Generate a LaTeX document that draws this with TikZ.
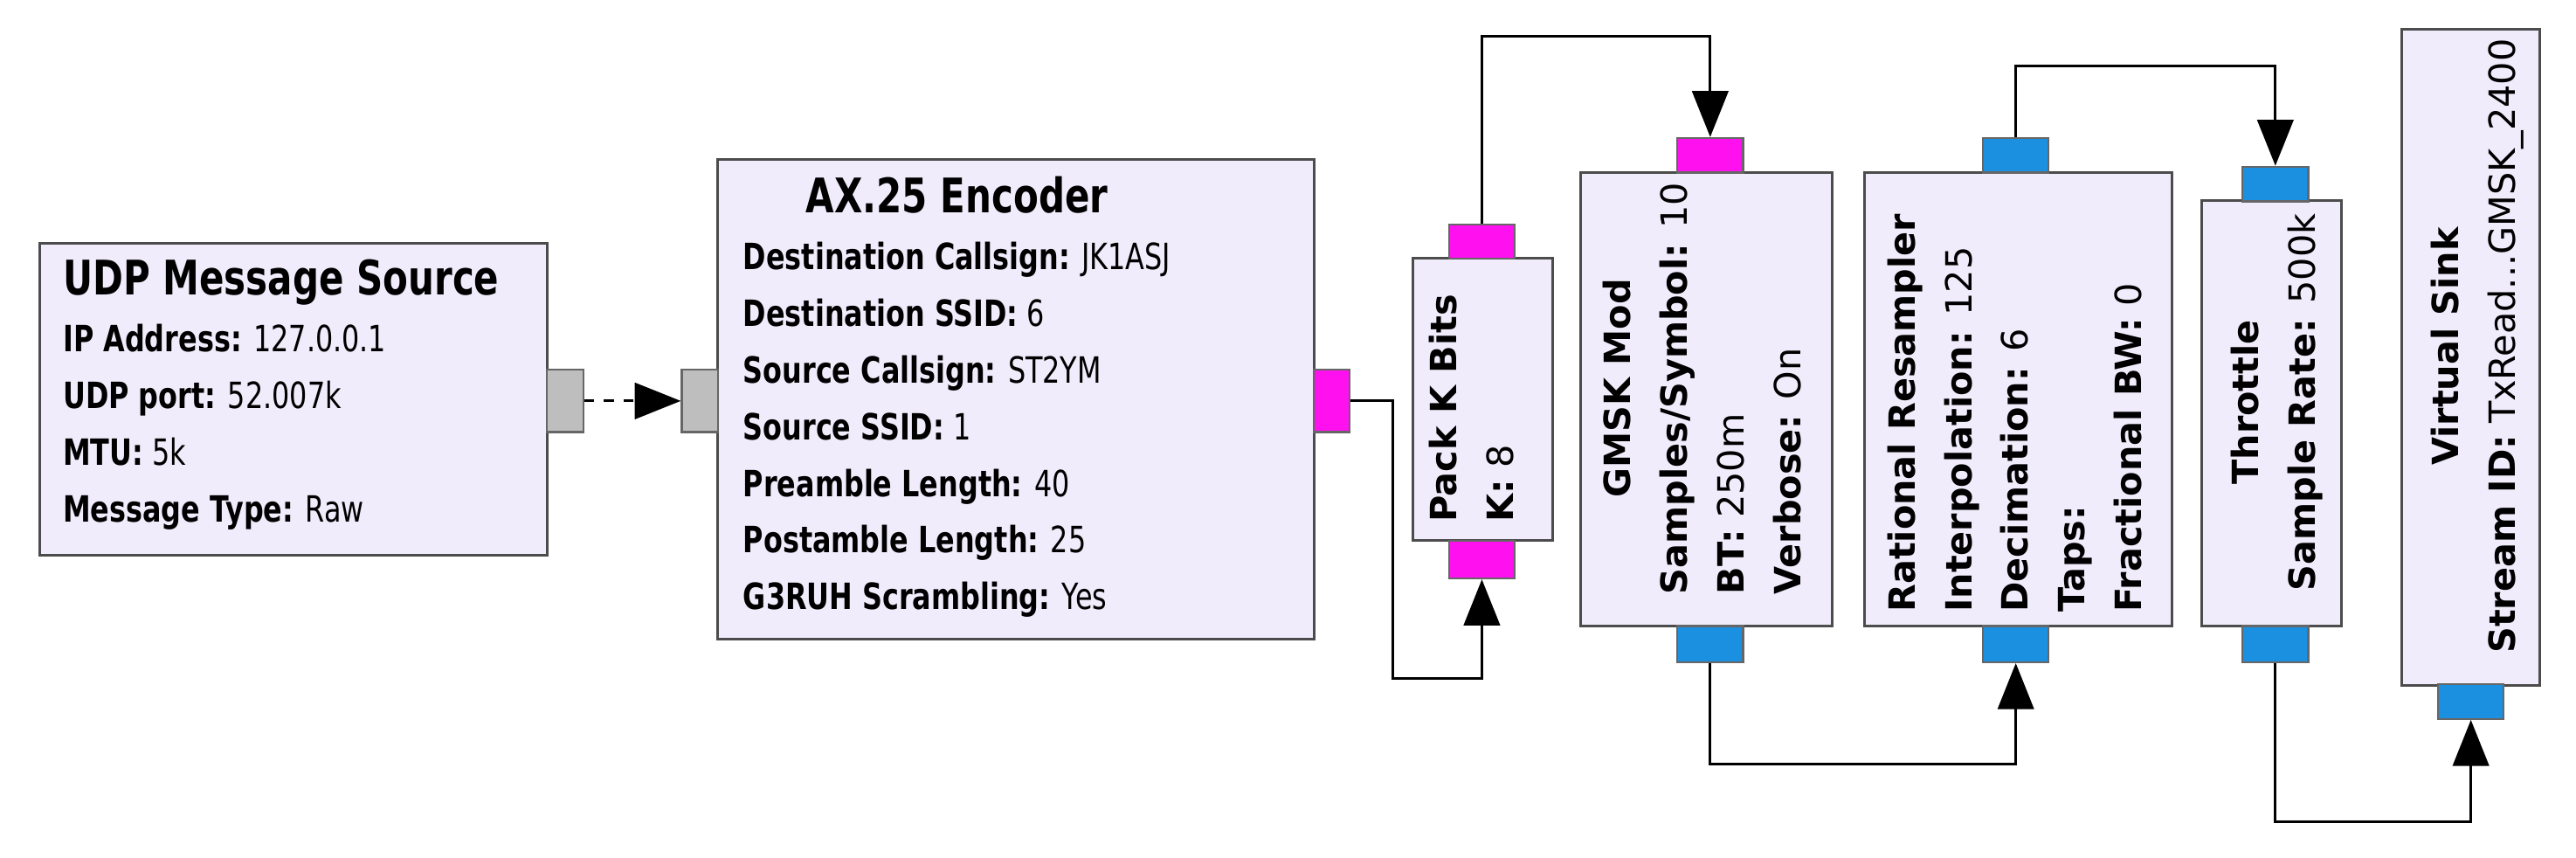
\documentclass[tikz,border=0pt]{standalone}
\usepackage{fontspec}
\setmainfont{DejaVu Sans}
\newfontfamily\condfont{DejaVu Sans}[FakeStretch=0.77]
\usetikzlibrary{arrows.meta, positioning}
\definecolor{blockfill}{HTML}{F1ECFB}
\definecolor{msgport}{HTML}{BEBEBE}
\definecolor{byteport}{HTML}{FF10EE}
\definecolor{cplxport}{HTML}{1C90E0}
\newcommand{\htitle}[1]{\multicolumn{1}{@{}c@{}}{\fontsize{14.5}{17.25}\selectfont\textbf{#1}}}

\begin{document}
\begin{tikzpicture}[x=0.5pt, y=-0.5pt,
    block/.style={rectangle, draw=black!70, line width=0.8pt, fill=blockfill, inner sep=0pt},
    port/.style={rectangle, draw=black!60, line width=0.6pt, inner sep=0pt},
    hport/.style={port, minimum width=11pt, minimum height=19pt},
    vport/.style={port, minimum width=20pt, minimum height=10.5pt},
    hlabel/.style={anchor=north west, inner sep=0pt, font=\condfont\fontsize{11}{17.25}\selectfont},
    vlabel/.style={anchor=north west, inner sep=0pt, rotate=90, font=\fontsize{11}{17.25}\selectfont},
    wire/.style={line width=0.8pt, -{Triangle[length=14pt, width=11pt]}}]
    \useasboundingbox (0,0) rectangle (1568,522);

    % Blocks
    \node (udp) [block, minimum width=154.5pt, minimum height=95pt] at (178.5,243) {};
    \node (ax) [block, minimum width=181.5pt, minimum height=146pt] at (618.5,243) {};
    \node (pack) [block, minimum width=42.5pt, minimum height=86pt] at (902.5,243) {};
    \node (gmsk) [block, minimum width=76.5pt, minimum height=138pt] at (1038.5,243) {};
    \node (rrs) [block, minimum width=93.5pt, minimum height=138pt] at (1228.5,243) {};
    \node (thr) [block, minimum width=42.5pt, minimum height=129.5pt] at (1382.5,251.5) {};
    \node (vsink) [block, minimum width=42pt, minimum height=199.5pt] at (1504,217.5) {};

    % Ports
    \node (udpo) [hport, fill=msgport] at (344,244) {};
    \node (axi) [hport, fill=msgport] at (426,244) {};
    \node (axo) [hport, fill=byteport] at (810.5,244) {};
    \node (pki) [vport, fill=byteport, minimum height=11.5pt] at (902,340.5) {};
    \node (pko) [vport, fill=byteport] at (902,147) {};
    \node (gmi) [vport, fill=byteport] at (1041,94.5) {};
    \node (gmo) [vport, fill=cplxport, minimum height=11pt] at (1041,392) {};
    \node (rro) [vport, fill=cplxport] at (1227,94.5) {};
    \node (rri) [vport, fill=cplxport, minimum height=11pt] at (1227,392) {};
    \node (thi) [vport, fill=cplxport] at (1385,112) {};
    \node (tho) [vport, fill=cplxport, minimum height=11pt] at (1385,392) {};
    \node (vsi) [vport, fill=cplxport] at (1504,427) {};

    % Labels
    \node (udptxt) [hlabel] at (38,155) {\begin{tabular}{@{}l@{}}
        \htitle{UDP Message Source}\\
        \textbf{IP Address:} 127.0.0.1\\
        \textbf{UDP port:} 52.007k\\
        \textbf{MTU:} 5k\\
        \textbf{Message Type:} Raw
    \end{tabular}};
    \node (axtxt) [hlabel] at (452,105) {\begin{tabular}{@{}l@{}}
        \htitle{AX.25 Encoder}\\
        \textbf{Destination Callsign:} JK1ASJ\\
        \textbf{Destination SSID:} 6\\
        \textbf{Source Callsign:} ST2YM\\
        \textbf{Source SSID:} 1\\
        \textbf{Preamble Length:} 40\\
        \textbf{Postamble Length:} 25\\
        \textbf{G3RUH Scrambling:} Yes
    \end{tabular}};
    \node (packtxt) [vlabel] at (862,318) {\begin{tabular}{@{}l@{}}
        \textbf{Pack K Bits}\\
        \textbf{K:} 8
    \end{tabular}};
    \node (gmsktxt) [vlabel] at (968,362) {\begin{tabular}{@{}l@{}}
        \multicolumn{1}{@{}c@{}}{\textbf{GMSK Mod}}\\
        \textbf{Samples/Symbol:} 10\\
        \textbf{BT:} 250m\\
        \textbf{Verbose:} On
    \end{tabular}};
    \node (rrstxt) [vlabel] at (1141,373) {\begin{tabular}{@{}l@{}}
        \multicolumn{1}{@{}c@{}}{\textbf{Rational Resampler}}\\
        \textbf{Interpolation:} 125\\
        \textbf{Decimation:} 6\\
        \textbf{Taps:}\\
        \textbf{Fractional BW:} 0
    \end{tabular}};
    \node (thrtxt) [vlabel] at (1350,360) {\begin{tabular}{@{}l@{}}
        \multicolumn{1}{@{}c@{}}{\textbf{Throttle}}\\
        \textbf{Sample Rate:} 500k
    \end{tabular}};
    \node (vsinktxt) [vlabel] at (1472,398) {\begin{tabular}{@{}l@{}}
        \multicolumn{1}{@{}c@{}}{\textbf{Virtual Sink}}\\
        \textbf{Stream ID:} TxRead...GMSK\_2400
    \end{tabular}};

    % Connections
    \coordinate (c1) at (848,413);
    \coordinate (c2) at (960,22);
    \coordinate (c3) at (1130,465);
    \coordinate (c4) at (1300,40);
    \coordinate (c5) at (1440,500);
    \draw[wire, dashed] (udpo.east) -- (axi.west);
    \draw[wire] (axo.east) -| (c1) -| (pki.south);
    \draw[wire] (pko.north) |- (c2) -| (gmi.north);
    \draw[wire] (gmo.south) |- (c3) -| (rri.south);
    \draw[wire] (rro.north) |- (c4) -| (thi.north);
    \draw[wire] (tho.south) |- (c5) -| (vsi.south);
\end{tikzpicture}
\end{document}
